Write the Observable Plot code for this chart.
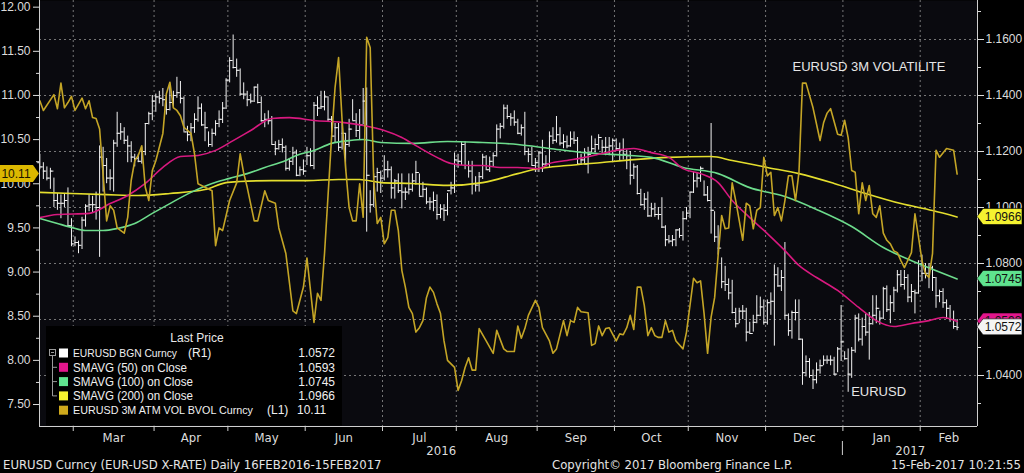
<!DOCTYPE html>
<html><head><meta charset="utf-8">
<script src="https://cdn.jsdelivr.net/npm/d3@7"></script>
<script src="https://cdn.jsdelivr.net/npm/@observablehq/plot@0.6"></script>
<style>
html,body{margin:0;padding:0;background:#000;}
#wrap{width:1024px;height:473px;position:relative;overflow:hidden;background:#000;}
#footer{position:absolute;left:0;top:455px;width:1024px;height:18px;color:#e4e4e4;font:13px "Liberation Sans Narrow","DejaVu Sans Condensed",sans-serif;}
#footer span{position:absolute;top:3px;white-space:nowrap;line-height:13px;}
</style></head><body>
<div id="wrap"><div id="chart"></div>
<div id="footer"><span id="f1" style="left:3px"></span><span id="f2" style="left:552px"></span><span id="f3" style="right:3px"></span></div>
</div>
<script>
// ---------------- DATA ----------------
const firstDay = "2016-02-16", lastDay = "2017-02-15";
const footerTexts = ["EURUSD Curncy (EUR-USD X-RATE)  Daily 16FEB2016-15FEB2017", "Copyright\u00A9 2017 Bloomberg Finance L.P.", "15-Feb-2017 10:21:55"];
const monthLabels = ["Mar","Apr","May","Jun","Jul","Aug","Sep","Oct","Nov","Dec","Jan","Feb"];
const yearLabels = ["2016","2017"];
const volTicks = [7.5,8,8.5,9,9.5,10,10.5,11,11.5,12];
const volMinorTicks = [7.75,8.25,8.75,9.25,9.75,10.25,10.75,11.25,11.75];
const priceTicks = [1.04,1.06,1.08,1.10,1.12,1.14,1.16];
const priceMinorTicks = [1.03,1.05,1.07,1.09,1.11,1.13,1.15,1.17];

// EURUSD daily bars (one per trading day from 16 Feb 2016)
const firstOpen = 1.1160;
const high = [
1.1190,1.1160,1.1145,1.1140,1.1105,1.1050,1.1045,1.1050,1.1070,1.0960,
1.0895,1.0880,1.0965,1.1010,1.1045,1.1040,1.1055,1.1220,1.1215,1.1175,
1.1135,1.1240,1.1340,1.1300,1.1285,1.1255,1.1235,1.1190,1.1190,1.1215,
1.1300,1.1340,1.1400,1.1405,1.1415,1.1425,1.1400,1.1440,1.1415,1.1465,
1.1450,1.1395,1.1290,1.1300,1.1335,1.1395,1.1370,1.1340,1.1270,1.1280,
1.1310,1.1345,1.1375,1.1460,1.1535,1.1616,1.1530,1.1495,1.1445,1.1415,
1.1405,1.1430,1.1440,1.1395,1.1335,1.1345,1.1325,1.1235,1.1240,1.1245,
1.1220,1.1175,1.1215,1.1205,1.1145,1.1170,1.1215,1.1210,1.1375,1.1395,
1.1415,1.1415,1.1395,1.1325,1.1300,1.1300,1.1300,1.1265,1.1315,1.1385,
1.1335,1.1350,1.1425,1.1427,1.1060,1.1120,1.1140,1.1130,1.1185,1.1165,
1.1145,1.1100,1.1120,1.1120,1.1070,1.1120,1.1120,1.1165,1.1120,1.1090,
1.1070,1.1035,1.1055,1.1045,1.1010,1.1010,1.1050,1.1090,1.1195,1.1190,
1.1235,1.1235,1.1165,1.1165,1.1110,1.1125,1.1190,1.1185,1.1180,1.1195,
1.1295,1.1300,1.1366,1.1365,1.1335,1.1345,1.1315,1.1295,1.1340,1.1210,
1.1215,1.1175,1.1200,1.1240,1.1185,1.1270,1.1285,1.1325,1.1285,1.1260,
1.1255,1.1270,1.1270,1.1250,1.1190,1.1210,1.1215,1.1255,1.1245,1.1260,
1.1240,1.1250,1.1250,1.1245,1.1245,1.1230,1.1245,1.1205,1.1200,1.1155,
1.1150,1.1065,1.1050,1.1055,1.1015,1.1015,1.1000,1.1035,1.0935,1.0900,
1.0900,1.0920,1.0925,1.0985,1.1000,1.1055,1.1125,1.1125,1.1145,1.1095,
1.1075,1.1300,1.0985,1.0935,1.0820,1.0790,1.0745,1.0740,1.0640,1.0640,
1.0650,1.0640,1.0590,1.0615,1.0685,1.0680,1.0670,1.0670,1.0695,1.0795,
1.0785,1.0775,1.0875,1.0620,1.0630,1.0670,1.0670,1.0530,1.0470,1.0460,
1.0420,1.0445,1.0455,1.0470,1.0470,1.0470,1.0465,1.0500,1.0650,1.0485,
1.0495,1.0500,1.0615,1.0620,1.0605,1.0620,1.0625,1.0685,1.0685,1.0630,
1.0715,1.0720,1.0685,1.0715,1.0775,1.0775,1.0775,1.0760,1.0725,1.0705,
1.0810,1.0830,1.0800,1.0800,1.0790,1.0750,1.0705,1.0710,1.0670,1.0650,
1.0630,1.0600];
const low = [
1.1135,1.1100,1.1095,1.1065,1.1000,1.0990,1.0960,1.1000,1.0930,1.0860,
1.0860,1.0835,1.0850,1.0930,1.0985,1.0980,1.0955,1.0822,1.1055,1.1085,
1.1060,1.1055,1.1215,1.1240,1.1225,1.1160,1.1160,1.1145,1.1160,1.1155,
1.1185,1.1295,1.1310,1.1340,1.1370,1.1360,1.1330,1.1345,1.1355,1.1390,
1.1370,1.1270,1.1235,1.1235,1.1265,1.1305,1.1290,1.1235,1.1215,1.1215,
1.1255,1.1285,1.1300,1.1350,1.1445,1.1495,1.1465,1.1400,1.1385,1.1360,
1.1370,1.1375,1.1370,1.1305,1.1285,1.1295,1.1225,1.1185,1.1205,1.1195,
1.1130,1.1130,1.1150,1.1110,1.1110,1.1115,1.1150,1.1145,1.1135,1.1325,
1.1350,1.1345,1.1305,1.1250,1.1230,1.1200,1.1205,1.1130,1.1215,1.1310,
1.1250,1.1240,1.1295,1.0912,1.0980,1.1000,1.1055,1.1050,1.1095,1.1105,
1.1030,1.1030,1.1050,1.0995,1.1025,1.1045,1.1055,1.1080,1.1040,1.1035,
1.1010,1.0990,1.0985,1.0955,1.0960,1.0950,1.0970,1.1045,1.1050,1.1140,
1.1150,1.1135,1.1105,1.1045,1.1055,1.1055,1.1100,1.1135,1.1125,1.1145,
1.1180,1.1245,1.1280,1.1315,1.1290,1.1290,1.1260,1.1255,1.1185,1.1160,
1.1150,1.1125,1.1125,1.1125,1.1145,1.1140,1.1225,1.1230,1.1220,1.1210,
1.1210,1.1215,1.1225,1.1150,1.1150,1.1155,1.1120,1.1195,1.1195,1.1205,
1.1190,1.1185,1.1185,1.1160,1.1200,1.1165,1.1170,1.1135,1.1080,1.1100,
1.1045,1.1005,1.0990,1.0965,1.0965,1.0965,1.0955,1.0925,1.0860,1.0870,
1.0860,1.0860,1.0890,1.0880,1.0955,1.0960,1.1050,1.1070,1.1090,1.1040,
1.1020,1.0905,1.0875,1.0830,1.0710,1.0700,1.0670,1.0620,1.0570,1.0585,
1.0600,1.0520,1.0550,1.0555,1.0585,1.0610,1.0580,1.0580,1.0615,1.0505,
1.0715,1.0700,1.0600,1.0540,1.0530,1.0595,1.0525,1.0365,1.0395,1.0390,
1.0350,1.0370,1.0405,1.0435,1.0440,1.0435,1.0400,1.0410,1.0450,1.0455,
1.0340,1.0390,1.0480,1.0520,1.0505,1.0540,1.0455,1.0580,1.0585,1.0580,
1.0600,1.0625,1.0585,1.0625,1.0695,1.0715,1.0705,1.0660,1.0660,1.0620,
1.0690,1.0735,1.0745,1.0710,1.0700,1.0640,1.0660,1.0640,1.0600,1.0590,
1.0565,1.0560];
const close = [
1.1145,1.1130,1.1105,1.1130,1.1025,1.1015,1.1015,1.1025,1.0935,1.0870,
1.0875,1.0865,1.0955,1.1005,1.1010,1.1010,1.1000,1.1180,1.1150,1.1105,
1.1105,1.1230,1.1265,1.1270,1.1240,1.1220,1.1180,1.1175,1.1165,1.1200,
1.1300,1.1335,1.1380,1.1395,1.1390,1.1385,1.1350,1.1375,1.1400,1.1410,
1.1390,1.1270,1.1260,1.1285,1.1315,1.1355,1.1295,1.1285,1.1225,1.1265,
1.1300,1.1315,1.1355,1.1455,1.1525,1.1500,1.1490,1.1405,1.1405,1.1385,
1.1380,1.1430,1.1375,1.1310,1.1315,1.1310,1.1225,1.1210,1.1225,1.1215,
1.1140,1.1165,1.1195,1.1115,1.1135,1.1130,1.1185,1.1150,1.1365,1.1355,
1.1360,1.1395,1.1315,1.1255,1.1285,1.1215,1.1265,1.1225,1.1280,1.1310,
1.1275,1.1295,1.1380,1.1115,1.1010,1.1110,1.1125,1.1105,1.1135,1.1135,
1.1070,1.1095,1.1060,1.1055,1.1055,1.1065,1.1095,1.1125,1.1040,1.1065,
1.1020,1.1020,1.1025,1.0975,1.0995,1.0990,1.1060,1.1070,1.1170,1.1165,
1.1225,1.1150,1.1130,1.1085,1.1080,1.1110,1.1180,1.1135,1.1165,1.1185,
1.1280,1.1290,1.1355,1.1325,1.1320,1.1305,1.1265,1.1285,1.1200,1.1190,
1.1150,1.1160,1.1195,1.1155,1.1155,1.1255,1.1240,1.1260,1.1230,1.1235,
1.1220,1.1245,1.1240,1.1155,1.1170,1.1155,1.1190,1.1210,1.1225,1.1250,
1.1215,1.1215,1.1220,1.1240,1.1210,1.1205,1.1190,1.1185,1.1115,1.1145,
1.1050,1.1010,1.1030,1.0970,1.0995,1.0975,1.0975,1.0930,1.0885,1.0880,
1.0885,1.0920,1.0900,1.0960,1.0980,1.1055,1.1095,1.1105,1.1140,1.1045,
1.1025,1.0990,1.0895,1.0855,1.0735,1.0725,1.0695,1.0625,1.0585,1.0630,
1.0630,1.0555,1.0550,1.0590,1.0615,1.0645,1.0590,1.0660,1.0665,1.0760,
1.0720,1.0750,1.0615,1.0560,1.0625,1.0625,1.0530,1.0410,1.0450,1.0400,
1.0385,1.0420,1.0435,1.0455,1.0455,1.0455,1.0405,1.0495,1.0520,1.0460,
1.0405,1.0490,1.0605,1.0530,1.0575,1.0555,1.0585,1.0615,1.0640,1.0605,
1.0710,1.0635,1.0660,1.0705,1.0760,1.0725,1.0750,1.0680,1.0700,1.0695,
1.0800,1.0765,1.0765,1.0785,1.0750,1.0685,1.0700,1.0660,1.0640,1.0600,
1.0575,1.0572];

// Moving averages (trading-day number, value)
const sma50Day = [0,5,14,20,25,30,35,40,45,50,55,60,66,71,78,86,92,98,103,107,113,117,122,126,131,136,142,145,150,155,160,164,169,174,179,183,188,193,197,202,207,212,216,221,227,233,238,243,248,253,257,261];
const sma50 = [1.0964,1.0975,1.0979,1.1014,1.1043,1.1086,1.1143,1.1182,1.1186,1.1204,1.1239,1.1275,1.1318,1.1321,1.1311,1.1304,1.1293,1.1275,1.1250,1.1221,1.1179,1.1157,1.1150,1.1150,1.1143,1.1143,1.1139,1.1157,1.1168,1.1179,1.1193,1.1204,1.1211,1.1196,1.1179,1.1139,1.1121,1.1089,1.1025,1.0964,1.0907,1.0846,1.0793,1.0750,1.0704,1.0643,1.0596,1.0575,1.0586,1.0596,1.0607,1.0593];
const sma100Day = [0,5,9,13,18,22,27,32,37,43,49,54,59,64,70,73,78,83,88,92,97,106,116,126,136,145,155,164,174,183,193,202,212,221,231,240,250,261];
const sma100 = [1.0961,1.0943,1.0929,1.0918,1.0918,1.0925,1.0943,1.0979,1.1014,1.1054,1.1086,1.1104,1.1121,1.1143,1.1168,1.1186,1.1204,1.1229,1.1239,1.1243,1.1232,1.1229,1.1236,1.1232,1.1225,1.1211,1.1196,1.1189,1.1179,1.1143,1.1121,1.1071,1.1039,1.0993,1.0932,1.0857,1.0800,1.0745];
const sma200Day = [0,9,19,28,37,47,53,57,66,76,85,91,97,106,116,126,136,142,150,160,169,179,191,197,207,216,226,235,245,254,261];
const sma200 = [1.1054,1.1050,1.1046,1.1043,1.1050,1.1064,1.1089,1.1093,1.1096,1.1096,1.1100,1.1100,1.1089,1.1086,1.1079,1.1089,1.1121,1.1139,1.1150,1.1161,1.1171,1.1179,1.1182,1.1168,1.1143,1.1121,1.1086,1.1050,1.1014,1.0989,1.0966];

// EURUSD 3M ATM volatility (left axis)
const volDay = [0,1,4,5,6,7,8,9,10,12,13,14,15,16,17,18,19,20,21,22,24,25,26,27,28,29,30,31,32,33,35,36,37,38,39,40,41,43,44,45,47,49,50,51,52,54,56,57,58,59,61,62,64,65,67,68,70,72,73,75,76,78,79,80,81,83,84,85,86,87,88,89,90,91,92,93,94,95,96,97,98,99,100,101,102,103,104,105,106,107,108,109,110,111,112,113,114,115,116,118,119,120,121,122,123,124,125,127,129,130,132,133,135,136,137,138,139,141,142,143,145,146,147,149,150,151,152,153,154,156,157,158,159,160,161,162,164,165,166,167,168,169,170,171,172,173,174,175,176,177,178,179,180,181,183,184,186,187,188,189,190,191,192,193,194,195,196,197,198,200,201,202,203,204,205,206,207,208,209,210,211,212,213,214,215,216,217,218,220,222,223,224,225,227,228,229,230,231,232,233,234,235,236,237,238,239,240,241,242,243,244,245,246,248,249,250,251,252,253,254,255,256,258,260,261];
const volValue = [10.94,10.83,11.01,10.85,11.14,10.86,10.92,10.99,10.83,10.97,10.85,10.94,10.75,10.74,10.62,10.10,9.58,9.75,9.70,9.50,9.44,9.62,10.04,10.26,10.32,10.43,9.96,9.81,10.15,10.26,10.57,11.02,11.15,10.86,10.83,10.77,10.64,10.57,10.34,10.00,9.96,9.92,9.30,9.50,9.47,9.81,10.01,10.34,10.12,9.96,9.58,9.58,9.92,9.81,9.78,9.50,9.21,8.56,8.53,8.83,9.16,8.43,8.76,8.68,9.21,10.52,11.09,11.43,10.72,10.18,9.73,9.58,9.58,10.00,9.62,11.66,11.54,10.04,9.55,9.62,9.32,9.39,9.70,9.70,9.47,9.02,8.83,8.60,8.53,8.32,8.37,8.45,8.71,8.83,8.77,8.64,8.53,8.22,8.00,7.92,7.66,7.77,7.92,8.03,7.89,7.89,8.36,8.22,8.08,8.34,8.13,8.10,8.10,8.39,8.25,8.36,8.51,8.68,8.60,8.37,8.22,8.08,8.13,8.45,8.28,8.45,8.43,8.60,8.55,8.54,8.17,8.19,8.39,8.28,8.36,8.37,8.22,8.30,8.29,8.37,8.51,8.35,8.83,8.83,8.62,8.28,8.37,8.28,8.26,8.26,8.45,8.32,8.34,8.22,8.13,8.32,8.93,8.88,8.90,8.53,8.08,8.49,8.71,9.19,9.64,9.49,9.50,10.01,9.81,9.36,9.78,9.75,9.49,9.70,9.73,10.30,10.09,10.13,9.64,9.73,9.58,9.81,10.09,10.09,9.81,10.13,11.14,11.14,10.86,10.49,10.69,10.80,10.85,10.56,10.55,10.72,10.52,10.15,10.13,9.66,10.01,9.81,9.98,9.66,9.62,9.75,9.44,9.36,9.32,9.24,9.22,9.13,9.05,9.22,9.66,9.40,9.13,8.98,8.94,9.21,10.38,10.30,10.40,10.38,10.11];

const legendNames = ["EURUSD BGN Curncy","SMAVG (50) on Close","SMAVG (100) on Close","SMAVG (200) on Close","EURUSD 3M ATM VOL BVOL Curncy"];
const legendAxisTags = ["(R1)","","","","(L1)"];
const annotationTexts = ["EURUSD 3M VOLATILITE","EURUSD"];

// ---------------- BUILD ----------------
const colors = {bar:"#f2f2f2", sma50:"#d8197f", sma100:"#6ddc8c", sma200:"#e4de2e", vol:"#c4a526",
  sw50:"#e2168c", sw100:"#5fe38e", sw200:"#f4f230", swVol:"#cfa91c", grid:"#8a8a8a", axis:"#cfcfcf", text:"#dcdcdc"};
const FONT = "'Liberation Sans', Arial, sans-serif";
const NARROW = "'Liberation Sans Narrow', 'DejaVu Sans Condensed', sans-serif";

// trading days (weekdays) of the period
const days = [];
for (let t = Date.parse(firstDay + "T00:00:00Z"); t <= Date.parse(lastDay + "T00:00:00Z"); t += 864e5) {
  const wd = new Date(t).getUTCDay();
  if (wd !== 0 && wd !== 6) days.push(new Date(t));
}
const bars = days.map((d, i) => ({i, date: d, high: high[i], low: low[i], close: close[i], open: i ? close[i - 1] : firstOpen}));

// left (vol) axis is aligned onto the right (price) scale
const volToPrice = d3.scaleLinear().domain([7.5, 12]).range([1.02964, 1.17155]);
const vol = volDay.map((d, k) => ({i: d, v: volValue[k], p: volToPrice(volValue[k])}));
const s50 = sma50Day.map((d, k) => ({i: d, p: sma50[k]}));
const s100 = sma100Day.map((d, k) => ({i: d, p: sma100[k]}));
const s200 = sma200Day.map((d, k) => ({i: d, p: sma200[k]}));

const xDomain = [-0.1, 266.8];
const yDomain = [1.02179, 1.17393];

const bounds = [];
for (let i = 1; i < days.length; i++) if (days[i].getUTCMonth() !== days[i - 1].getUTCMonth()) bounds.push(i - 0.5);
const months = monthLabels.map((m, k) => ({label: m, mid: (bounds[k] + (k + 1 < bounds.length ? bounds[k + 1] : xDomain[1])) / 2}));
const yearBoundary = bounds[monthLabels.indexOf("Jan")];
const years = [{label: yearLabels[0], mid: (xDomain[0] + yearBoundary) / 2}, {label: yearLabels[1], mid: (yearBoundary + xDomain[1]) / 2}];

const minBar = bars.reduce((a, b) => (b.low < a.low ? b : a));
const decVolPeak = vol.filter(d => d.i > 200).reduce((a, b) => (b.v > a.v ? b : a));

const plot = Plot.plot({
  width: 1024, height: 455,
  marginLeft: 39, marginRight: 47, marginTop: 0, marginBottom: 29,
  x: {domain: xDomain},
  y: {domain: yDomain},
  style: {background: "#000", color: colors.text, fontFamily: FONT, fontSize: "12px", overflow: "visible"},
  marks: [
    Plot.frame({fill: "#0a0a0f", stroke: null}),
    Plot.ruleY(priceTicks, {stroke: colors.grid, strokeDasharray: "2,3", strokeOpacity: 0.85}),
    Plot.ruleX(bounds, {stroke: colors.grid, strokeDasharray: "2,3", strokeOpacity: 0.85}),
    // EURUSD OHLC bars
    Plot.ruleX(bars, {x: "i", y1: "low", y2: "high", stroke: colors.bar, strokeWidth: 1}),
    Plot.ruleY(bars, {y: "open", x1: d => d.i - 0.6, x2: "i", stroke: colors.bar, strokeWidth: 1}),
    Plot.ruleY(bars, {y: "close", x1: "i", x2: d => d.i + 0.6, stroke: colors.bar, strokeWidth: 1}),
    // moving averages
    Plot.line(s200, {x: "i", y: "p", stroke: colors.sma200, strokeWidth: 1.6, curve: "monotone-x"}),
    Plot.line(s100, {x: "i", y: "p", stroke: colors.sma100, strokeWidth: 1.6, curve: "monotone-x"}),
    Plot.line(s50, {x: "i", y: "p", stroke: colors.sma50, strokeWidth: 1.6, curve: "monotone-x"}),
    // volatility
    Plot.line(vol, {x: "i", y: "p", stroke: colors.vol, strokeWidth: 1.6}),
    // axis lines
    Plot.ruleX([xDomain[0], xDomain[1]], {stroke: colors.axis}),
    Plot.ruleY([yDomain[0]], {stroke: colors.axis}),
    // right axis (EURUSD)
    Plot.axisY(priceTicks, {anchor: "right", tickSize: 6, tickPadding: 2, tickFormat: d => d.toFixed(4), color: colors.text, fontSize: 12}),
    Plot.axisY(priceMinorTicks, {anchor: "right", tickSize: 3, tickFormat: () => "", color: colors.text}),
    // left axis (volatility)
    Plot.axisY(volTicks.map(volToPrice), {anchor: "left", tickSize: 6, tickPadding: 3, tickFormat: d => volToPrice.invert(d).toFixed(2), color: colors.text, fontSize: 12}),
    Plot.axisY(volMinorTicks.map(volToPrice), {anchor: "left", tickSize: 3, tickFormat: () => "", color: colors.text}),
    // bottom axis
    Plot.axisX(bounds, {anchor: "bottom", tickSize: 5, tickFormat: () => "", color: colors.axis}),
    Plot.text(months, {x: "mid", text: "label", frameAnchor: "bottom", lineAnchor: "middle", dy: 11, fill: colors.text, fontFamily: NARROW, fontSize: 13}),
    Plot.text(years, {x: "mid", text: "label", frameAnchor: "bottom", lineAnchor: "middle", dy: 24, fill: colors.text, fontFamily: NARROW, fontSize: 13}),
    // annotations
    Plot.text([decVolPeak], {x: "i", y: "p", text: () => annotationTexts[0], textAnchor: "start", dx: -10, dy: -16, fill: "#e6e6e6", fontSize: 13}),
    Plot.text([minBar], {x: "i", y: "low", text: () => annotationTexts[1], textAnchor: "start", dx: 3, dy: 0, fill: "#e6e6e6", fontSize: 13})
  ]
});
document.getElementById("chart").appendChild(plot);

// ---------------- decorations: year separator, legend, last-value tags ----------------
const svg = d3.select(plot);
const xs = plot.scale("x"), ys = plot.scale("y");
const yb = xs.apply(yearBoundary);
svg.append("line").attr("x1", yb).attr("x2", yb).attr("y1", 441).attr("y2", 455).attr("stroke", colors.axis);

const last = arr => arr[arr.length - 1];
const legendRows = [
  {name: legendNames[0], tag: legendAxisTags[0], value: last(close).toFixed(4), color: "#ffffff", w: 104, fs: 11},
  {name: legendNames[1], tag: legendAxisTags[1], value: last(sma50).toFixed(4), color: colors.sw50, w: 114, fs: 12},
  {name: legendNames[2], tag: legendAxisTags[2], value: last(sma100).toFixed(4), color: colors.sw100, w: 120, fs: 12},
  {name: legendNames[3], tag: legendAxisTags[3], value: last(sma200).toFixed(4), color: colors.sw200, w: 120, fs: 12},
  {name: legendNames[4], tag: legendAxisTags[4], value: last(volValue).toFixed(2), color: colors.swVol, w: 180, fs: 10.5, inline: true}
];
const lg = svg.append("g").style("font-family", FONT).style("font-size", "12px").attr("text-anchor", "start");
lg.append("rect").attr("x", 46).attr("y", 326).attr("width", 296).attr("height", 99.5).attr("fill", "#000");
lg.append("text").attr("x", 197).attr("y", 338).attr("dy", "0.35em").attr("text-anchor", "middle").attr("fill", "#e8e8e8").text("Last Price");
// tree connector
lg.append("rect").attr("x", 49.5).attr("y", 349.5).attr("width", 6).attr("height", 6).attr("fill", "none").attr("stroke", "#9a9a9a");
lg.append("line").attr("x1", 51).attr("x2", 54).attr("y1", 352.5).attr("y2", 352.5).attr("stroke", "#9a9a9a");
lg.append("line").attr("x1", 52.5).attr("x2", 52.5).attr("y1", 356).attr("y2", 396).attr("stroke", "#9a9a9a");
legendRows.forEach((r, k) => {
  const y = 353 + k * 14.3;
  if (k >= 1 && k <= 3) lg.append("line").attr("x1", 52.5).attr("x2", 57).attr("y1", y).attr("y2", y).attr("stroke", "#9a9a9a");
  lg.append("rect").attr("x", 59).attr("y", y - 4.5).attr("width", 9).attr("height", 9).attr("fill", r.color);
  lg.append("text").attr("x", 73).attr("y", y).attr("dy", "0.35em").attr("text-anchor", "start").attr("fill", "#f0f0f0")
    .style("font-size", r.fs + "px").attr("textLength", r.w).attr("lengthAdjust", "spacingAndGlyphs").text(r.name);
  if (r.tag) lg.append("text").attr("x", r.inline ? 267 : 188).attr("y", y).attr("dy", "0.35em").attr("text-anchor", "start").attr("fill", "#f0f0f0").text(r.tag);
  if (r.inline) lg.append("text").attr("x", 297).attr("y", y).attr("dy", "0.35em").attr("text-anchor", "start").attr("fill", "#f0f0f0").text(r.value);
  else lg.append("text").attr("x", 335).attr("y", y).attr("dy", "0.35em").attr("text-anchor", "end").attr("fill", "#f0f0f0").text(r.value);
});

function tagRight(value, fill, label) {
  const y = ys.apply(value), xr = xs.apply(xDomain[1]);
  const g = svg.append("g");
  g.append("path").attr("d", `M${xr},${y} L${xr + 6},${y - 8} L1022,${y - 8} L1022,${y + 8} L${xr + 6},${y + 8} Z`).attr("fill", fill).attr("stroke", "#000").attr("stroke-width", 0.6);
  g.append("text").attr("x", xr + 26).attr("y", y).attr("dy", "0.36em").attr("text-anchor", "middle").attr("fill", "#111").style("font", "12px " + FONT).text(label);
}
tagRight(last(sma200), colors.sw200, last(sma200).toFixed(4));
tagRight(last(sma100), colors.sw100, last(sma100).toFixed(4));
tagRight(last(sma50), colors.sw50, last(sma50).toFixed(4));
tagRight(last(close), "#f4f4f4", last(close).toFixed(4));
{
  const lv = last(volValue), y = ys.apply(volToPrice(lv)), xl = xs.apply(xDomain[0]);
  const g = svg.append("g");
  g.append("path").attr("d", `M0,${y - 8.5} L${xl - 6},${y - 8.5} L${xl},${y} L${xl - 6},${y + 8.5} L0,${y + 8.5} Z`).attr("fill", "#dcb800");
  g.append("text").attr("x", 16).attr("y", y).attr("dy", "0.36em").attr("text-anchor", "middle").attr("fill", "#1a1400").style("font", "12px " + FONT).text(lv.toFixed(2));
}

document.getElementById("f1").textContent = footerTexts[0];
document.getElementById("f2").textContent = footerTexts[1];
document.getElementById("f3").textContent = footerTexts[2];
</script>
</body></html>
